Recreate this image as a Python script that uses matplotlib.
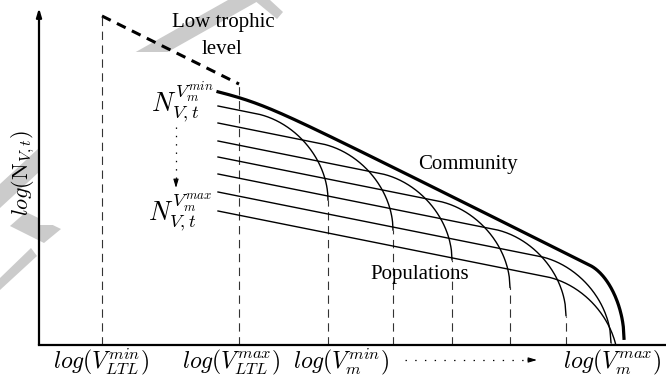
import numpy as np
import matplotlib
matplotlib.use("Agg")
import matplotlib.pyplot as plt
from matplotlib.patches import Polygon, Rectangle

plt.rcParams['mathtext.fontset'] = 'cm'
plt.rcParams['font.family'] = 'Liberation Serif'
plt.rcParams['lines.scale_dashes'] = False

# schematic units: x = log body volume, y = log abundance (arbitrary scale)
x_ltl = [102, 239]                 # log(V_LTL^min), log(V_LTL^max)
ltl_logN = [329, 261]              # low trophic level spectrum at its ends

pop_x0 = 218                       # where population lines start
pop_logN0 = [239, 222, 204, 188, 171, 153, 134]
pop_slope = -0.2
pop_x_end = [328, 393, 452, 510, 566, 611, 618]
pop_drop_w = 72
pop_drop_h = 72

comm_logN0 = 256                   # community at pop_x0
comm_knee = (280, 235)             # point on the steep part
comm_slope = -0.5
comm_x_end = 624
comm_drop_w = 34
comm_drop_h = 56

tick_pos = [101, 231, 341, 612]
tick_labels = [r'$log(V_{LTL}^{min})$', r'$log(V_{LTL}^{max})$',
               r'$log(V_m^{min})$', r'$log(V_m^{max})$']

# grey background mark (pixel coords)
wm_shapes = [
    [(228, 0), (260, 0), (150, 62), (118, 62)],
    [(254, 0), (270, 0), (283, 12), (277, 19)],
    [(39, 148), (39, 172), (0, 208), (0, 184)],
    [(26, 212), (61, 229), (44, 243), (10, 226)],
    [(31, 248), (37, 256), (0, 290), (0, 278)],
]


def drop(x, x_end, w, h):
    """quarter-ellipse fall-off before x_end"""
    t = np.clip((x - (x_end - w)) / w, 0, 1)
    return h * (1 - np.sqrt(1 - t ** 2))


fig = plt.figure(figsize=(6.66, 3.77), dpi=100)

bg = fig.add_axes([0, 0, 1, 1])
bg.set_xlim(0, 666)
bg.set_ylim(377, 0)
bg.axis('off')
for pts in wm_shapes:
    bg.add_patch(Polygon(pts, closed=True, facecolor='#cbcbcb', edgecolor='none'))
bg.add_patch(Rectangle((40, 52), 178, 173, facecolor='white', edgecolor='none'))

ax = fig.add_axes([39 / 666, 32 / 377, 627 / 666, 337 / 377])
ax.patch.set_alpha(0)
ax.set_xlim(39, 666)
ax.set_ylim(0, 337)
for s in ['top', 'right', 'left']:
    ax.spines[s].set_visible(False)
ax.spines['bottom'].set_linewidth(1.6)
ax.set_xticks([])
ax.set_yticks([])

# y axis with arrow
ax.annotate('', xy=(39, 337), xytext=(39, 0), annotation_clip=False,
            arrowprops=dict(arrowstyle='-|>,head_length=0.5,head_width=0.15',
                            lw=1.6, color='black', shrinkA=0, shrinkB=0))

thin_dash = dict(color='#333333', lw=0.8, linestyle=(0, (6, 4)))

# low trophic level
ax.plot(x_ltl, ltl_logN, color='black', lw=2.2, linestyle=(0, (7, 5)))
ax.plot([x_ltl[0]] * 2, [0, ltl_logN[0]], **thin_dash)
ax.plot([x_ltl[1]] * 2, [0, ltl_logN[1]], **thin_dash)

# populations
for n0, xe in zip(pop_logN0, pop_x_end):
    x = np.linspace(pop_x0, xe, 400)
    y = n0 + pop_slope * (x - pop_x0) - drop(x, xe, pop_drop_w, pop_drop_h)
    ax.plot(x, y, color='black', lw=1.0)
    if y[-1] > 0:
        ax.plot([xe, xe], [0, y[-1]], **thin_dash)

# community: flat start blended into steeper power law, then fall-off
x = np.linspace(pop_x0, comm_x_end, 600)
a = comm_logN0 + pop_slope * (x - pop_x0)
b = comm_knee[1] + comm_slope * (x - comm_knee[0])
y = (a + b) / 2 - np.sqrt(((a - b) / 2) ** 2 + 6 ** 2)
y -= drop(x, comm_x_end, comm_drop_w, comm_drop_h)
ax.plot(x, y, color='black', lw=2.3)

# labels
for xp, lab in zip(tick_pos, tick_labels):
    ax.text(xp, -17, lab, ha='center', va='center', fontsize=17, clip_on=False)
ax.plot([405, 530], [-15, -15], color='black', lw=0.9, linestyle=(0, (1, 6)), clip_on=False)
ax.annotate('', xy=(537, -15), xytext=(528, -15), annotation_clip=False,
            arrowprops=dict(arrowstyle='-|>,head_length=0.5,head_width=0.15',
                            lw=0.8, color='black', shrinkA=0, shrinkB=0))

ax.text(23, 172, r'$log(\mathrm{N}_{V,t})$', rotation=90, ha='center', va='center',
        fontsize=16, clip_on=False)

ax.text(223, 323, 'Low trophic', ha='center', va='center', fontsize=15)
ax.text(222, 295, 'level', ha='center', va='center', fontsize=15)
ax.text(468, 180, 'Community', ha='center', va='center', fontsize=15)
ax.text(420, 70, 'Populations', ha='center', va='center', fontsize=15)

ax.text(182, 243, r'$N_{V,t}^{V_m^{min}}$', ha='center', va='center', fontsize=19)
ax.text(180, 133, r'$N_{V,t}^{V_m^{max}}$', ha='center', va='center', fontsize=19)
ax.plot([176, 176], [218, 164], color='black', lw=0.9, linestyle=(0, (1, 5)))
ax.annotate('', xy=(176, 157), xytext=(176, 165),
            arrowprops=dict(arrowstyle='-|>,head_length=0.5,head_width=0.15',
                            lw=0.8, color='black', shrinkA=0, shrinkB=0))

fig.savefig('out.png', dpi=100)
